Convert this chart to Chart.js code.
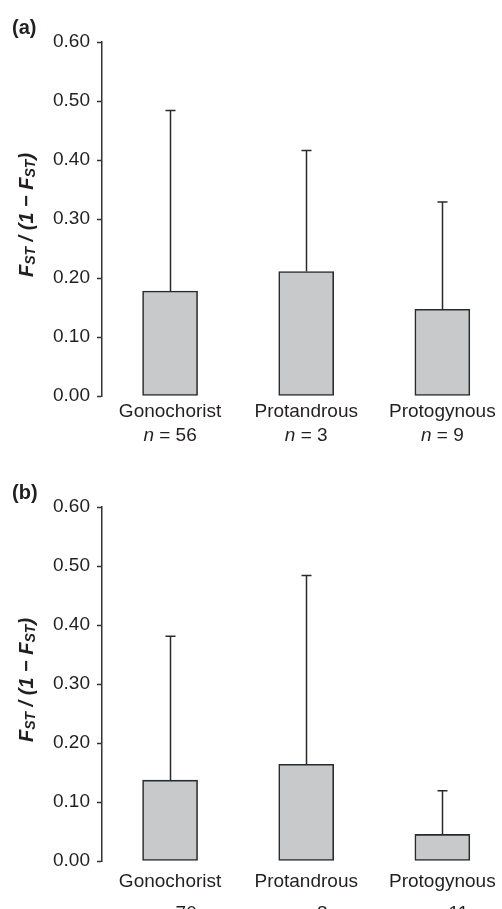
<!DOCTYPE html>
<html>
<head>
<meta charset="utf-8">
<script src="https://cdn.jsdelivr.net/npm/chart.js@4.4.1/dist/chart.umd.min.js"></script>
<style>
body { margin: 0; background: #fff; overflow: hidden; }
canvas { display: block; }
</style>
</head>
<body>
<canvas id="chartA" width="502" height="465"></canvas>
<canvas id="chartB" width="502" height="444"></canvas>
<script>
// categories and values
const categories = ['Gonochorist', 'Protandrous', 'Protogynous'];

// panel (a)
const meansA = [0.178, 0.211, 0.147];
const upperA = [0.484, 0.416, 0.329];   // top of error bar
const countsA = [56, 3, 9];

// panel (b)
const meansB = [0.137, 0.164, 0.045];
const upperB = [0.381, 0.484, 0.119];
const countsB = [70, 8, 11];

const FONT = "'Liberation Sans', Arial, sans-serif";
const INK = '#231f20';

// draws error bars, category labels, axis title and panel letter
function extrasPlugin(panel, upper, counts, nameDy, countDy) {
    return {
        id: 'extras' + panel,
        afterDatasetsDraw(chart) {
            const ctx = chart.ctx;
            const x = chart.scales.x;
            const y = chart.scales.y;
            const bottom = chart.chartArea.bottom;
            const means = chart.data.datasets[0].data;

            ctx.save();
            // error bars
            ctx.strokeStyle = '#2a2a2a';
            ctx.lineWidth = 1.5;
            for (let i = 0; i < upper.length; i++) {
                const px = Math.round(x.getPixelForValue(i)) + 0.5;
                const y0 = y.getPixelForValue(means[i].y);
                const y1 = y.getPixelForValue(upper[i]);
                ctx.beginPath();
                ctx.moveTo(px, y0);
                ctx.lineTo(px, y1);
                ctx.moveTo(px - 5, y1);
                ctx.lineTo(px + 5, y1);
                ctx.stroke();
            }

            // category names and n
            ctx.fillStyle = INK;
            ctx.textBaseline = 'alphabetic';
            for (let i = 0; i < categories.length; i++) {
                const px = x.getPixelForValue(i);
                ctx.font = '19px ' + FONT;
                ctx.textAlign = 'center';
                ctx.fillText(categories[i], px, bottom + nameDy);

                const rest = ' = ' + counts[i];
                ctx.font = 'italic 19px ' + FONT;
                const wn = ctx.measureText('n').width;
                ctx.font = '19px ' + FONT;
                const wr = ctx.measureText(rest).width;
                const start = px - (wn + wr) / 2;
                ctx.textAlign = 'left';
                ctx.font = 'italic 19px ' + FONT;
                ctx.fillText('n', start, bottom + countDy);
                ctx.font = '19px ' + FONT;
                ctx.fillText(rest, start + wn, bottom + countDy);
            }

            // panel letter
            ctx.font = 'bold 20px ' + FONT;
            ctx.textAlign = 'left';
            ctx.fillText('(' + panel + ')', 12, 34);

            // y axis title: FST / (1 - FST), rotated
            const parts = [
                ['F', 20, 0], ['ST', 14, 2], [' / (1 \u2212 ', 20, 0],
                ['F', 20, 0], ['ST', 14, 2], [')', 20, 0]
            ];
            let total = 0;
            parts.forEach(p => {
                ctx.font = 'italic bold ' + p[1] + 'px ' + FONT;
                total += ctx.measureText(p[0]).width;
            });
            const cy = (y.top + y.bottom) / 2 - 4;
            ctx.translate(33, cy);
            ctx.rotate(-Math.PI / 2);
            let pos = -total / 2;
            parts.forEach(p => {
                ctx.font = 'italic bold ' + p[1] + 'px ' + FONT;
                ctx.fillText(p[0], pos, p[2]);
                pos += ctx.measureText(p[0]).width;
            });
            ctx.restore();
        }
    };
}

function makeChart(id, panel, means, upper, counts, padBottom, nameDy, countDy) {
    const ctx = document.getElementById(id).getContext('2d');
    return new Chart(ctx, {
        type: 'bar',
        data: {
            datasets: [{
                data: means.map((v, i) => ({ x: i, y: v })),
                backgroundColor: '#c8c9cb',
                borderColor: '#2a2a2a',
                borderWidth: 1.6,
                borderSkipped: false,
                barThickness: 55
            }]
        },
        options: {
            responsive: false,
            animation: false,
            layout: { padding: { top: 42, left: 0, right: 12, bottom: padBottom } },
            plugins: { legend: { display: false }, tooltip: { enabled: false } },
            scales: {
                x: {
                    type: 'linear',
                    offset: false,
                    min: -0.5,
                    max: 2.35,
                    display: false
                },
                y: {
                    min: 0,
                    max: 0.6,
                    afterFit(scale) { scale.width = 102; },
                    ticks: {
                        stepSize: 0.1,
                        padding: 7,
                        color: INK,
                        font: { family: FONT, size: 19 },
                        callback: v => v.toFixed(2)
                    },
                    grid: {
                        drawOnChartArea: false,
                        drawTicks: true,
                        tickLength: 5,
                        tickWidth: 1.5,
                        tickColor: '#333'
                    },
                    border: { display: true, color: '#333', width: 1.5 }
                }
            }
        },
        plugins: [extrasPlugin(panel, upper, counts, nameDy, countDy)]
    });
}

makeChart('chartA', 'a', meansA, upperA, countsA, 69, 21, 45);
makeChart('chartB', 'b', meansB, upperB, countsB, 48, 26, 58);
</script>
</body>
</html>
